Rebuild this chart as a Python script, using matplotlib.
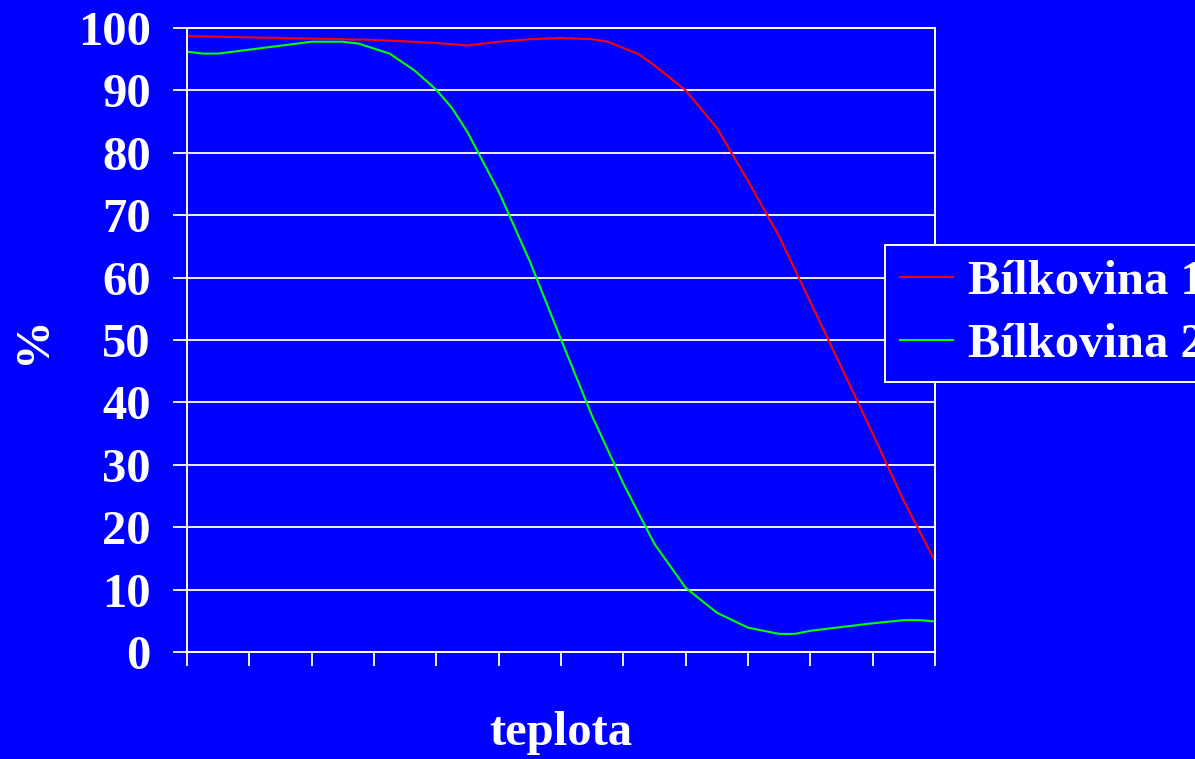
import numpy as np
import matplotlib
matplotlib.use("Agg")
import matplotlib.pyplot as plt

plt.rcParams['font.family'] = ['Liberation Serif', 'DejaVu Serif']
plt.rcParams['font.weight'] = 'bold'

# x in tick units (12 intervals on the temperature axis)
x_red = [0, 1, 2, 3, 4, 4.5, 5, 5.5, 6, 6.5, 6.75, 7.25, 7.5, 8, 8.5, 9, 9.5, 10, 10.5, 11, 11.5, 12]
y_red = [98.7, 98.5, 98.3, 98.1, 97.6, 97.2, 97.8, 98.2, 98.4, 98.2, 97.8, 95.8, 94.0, 90.0, 84.0,
         75.5, 66.6, 56.1, 45.6, 35.0, 24.2, 14.6]

x_green = [0, 0.25, 0.5, 2, 2.5, 2.75, 3.25, 3.65, 4, 4.25, 4.5, 5, 5.5, 6, 6.5, 7, 7.5, 8, 8.5,
           9, 9.5, 9.75, 10, 10.5, 11, 11.5, 11.75, 12]
y_green = [96.2, 95.9, 95.9, 97.8, 97.8, 97.5, 95.9, 93.2, 90.1, 87.2, 83.3, 73.8, 62.6, 50.1, 37.8,
           27.0, 17.3, 10.3, 6.3, 3.9, 2.9, 2.9, 3.4, 4.0, 4.6, 5.1, 5.1, 4.9]

labels = ['Bílkovina 1', 'Bílkovina 2']
bg = '#0000FF'

fig = plt.figure(figsize=(11.95, 7.59), dpi=100, facecolor=bg)
ax = fig.add_axes([187/1195, 1 - 652/759, (935-187)/1195, (652-28)/759], facecolor=bg)

ax.plot(x_red, y_red, color='#FF0000', lw=1.5, label=labels[0])
ax.plot(x_green, y_green, color='#00FF00', lw=1.5, label=labels[1])

ax.set_xlim(0, 12)
ax.set_ylim(0, 100)
ax.set_xticks(np.arange(0, 13))
ax.set_xticklabels([])
ax.set_yticks(np.arange(0, 101, 10))
ax.yaxis.grid(True, color='white', lw=1.3)
ax.set_axisbelow(True)
for s in ax.spines.values():
    s.set_color('white')
    s.set_linewidth(1.4)
ax.tick_params(axis='both', direction='out', length=10, width=1.3, color='white',
               labelcolor='white', labelsize=35, pad=16)
for t in ax.get_yticklabels():
    t.set_fontweight('bold')

fig.text(561/1195, 1 - 733/759, 'teplota', color='white', fontsize=35, fontweight='bold',
         ha='center', va='center')
fig.text(33/1195, 1 - 340/759, '%', color='white', fontsize=35, fontweight='bold',
         ha='center', va='center', rotation=90)

leg = fig.legend(loc='upper left', bbox_to_anchor=(885/1195, 1 - 245/759), fontsize=35,
                 frameon=True, facecolor=bg, edgecolor='white', framealpha=1, fancybox=False,
                 handlelength=1.1, handletextpad=0.3, borderpad=0.3, labelspacing=0.4,
                 borderaxespad=0)
leg.get_frame().set_linewidth(1.4)
for t in leg.get_texts():
    t.set_color('white')
    t.set_fontweight('bold')

fig.savefig('out.png', dpi=100, facecolor=bg)
